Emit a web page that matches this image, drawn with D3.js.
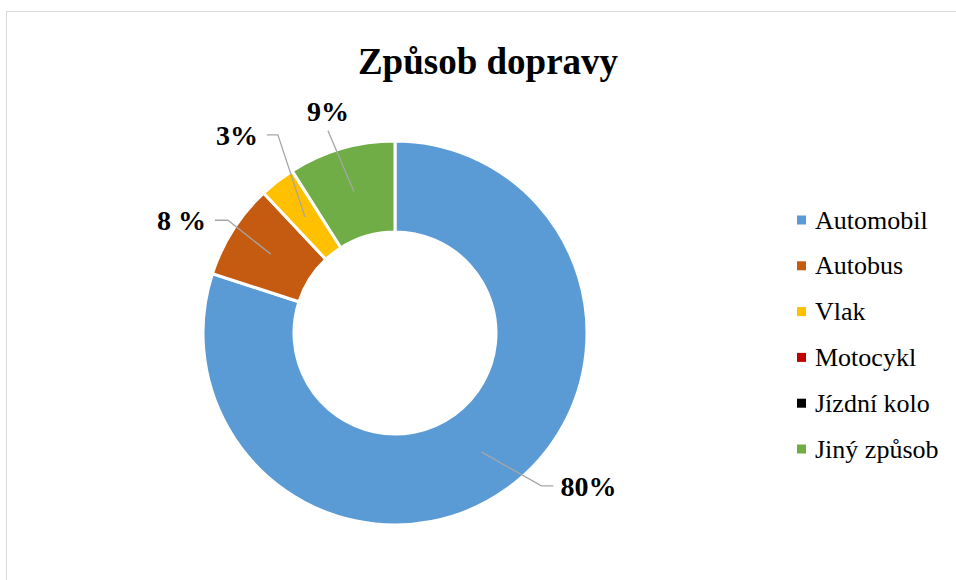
<!DOCTYPE html>
<html>
<head>
<meta charset="utf-8">
<script src="https://cdn.jsdelivr.net/npm/d3@7"></script>
<style>
  body { margin: 0; background: #fff; }
  text { font-family: "Liberation Serif", "Times New Roman", serif; }
</style>
</head>
<body>
<svg width="956" height="580"></svg>
<script>
const categories = ["Automobil", "Autobus", "Vlak", "Motocykl", "Jízdní kolo", "Jiný způsob"];
const values = [80, 8, 3, 0, 0, 9];
const labels = ["80%", "8 %", "3%", "", "", "9%"];
const colors = ["#5b9bd5", "#c55a11", "#ffc000", "#c00000", "#000000", "#70ad47"];

// label placement (elbow offset from the slice point, horizontal tail, side)
const labelLayout = [
  { elbow: [60, 34], tail: 12, anchor: "start" },
  { elbow: [-43, -34], tail: -13, anchor: "end" },
  { elbow: [-27, -82], tail: -11, anchor: "end" },
  null,
  null,
  { elbow: [-26, -61], tail: 0, anchor: "middle" }
];

const svg = d3.select("svg");
const cx = 395, cy = 333;

svg.append("rect")
  .attr("x", 6.5).attr("y", 11.5)
  .attr("width", 1000).attr("height", 1000)
  .attr("fill", "none")
  .attr("stroke", "#d9d9d9");

svg.append("text")
  .attr("x", 488).attr("y", 74)
  .attr("text-anchor", "middle")
  .attr("font-size", 37)
  .attr("font-weight", "bold")
  .text("Způsob dopravy");

const pie = d3.pie().sort(null).value(d => d.value);
const arcs = pie(categories.map((c, i) => ({ name: c, value: values[i], i: i })));

const arc = d3.arc().innerRadius(101).outerRadius(192);
const pointArc = d3.arc().innerRadius(147).outerRadius(147);

const g = svg.append("g").attr("transform", "translate(" + cx + "," + cy + ")");

g.selectAll("path")
  .data(arcs.filter(d => d.data.value > 0))
  .enter()
  .append("path")
  .attr("d", arc)
  .attr("fill", d => colors[d.data.i])
  .attr("stroke", "#fff")
  .attr("stroke-width", 3);

arcs.forEach(function(d) {
  const lay = labelLayout[d.data.i];
  if (!lay) return;
  const p = pointArc.centroid(d);
  const e = [p[0] + lay.elbow[0], p[1] + lay.elbow[1]];
  const t = [e[0] + lay.tail, e[1]];
  g.append("polyline")
    .attr("points", [p, e, t].map(q => q.join(",")).join(" "))
    .attr("fill", "none")
    .attr("stroke", "#a6a6a6")
    .attr("stroke-width", 1.3);
  let tx = t[0], ty = t[1] + 10;
  if (lay.anchor === "start") tx += 7;
  else if (lay.anchor === "end") tx -= 9;
  else ty = t[1] - 10;
  g.append("text")
    .attr("x", tx).attr("y", ty)
    .attr("text-anchor", lay.anchor)
    .attr("font-size", 28)
    .attr("font-weight", "bold")
    .text(labels[d.data.i]);
});

const legend = svg.append("g")
  .selectAll("g")
  .data(categories)
  .enter()
  .append("g")
  .attr("transform", (d, i) => "translate(797," + (220 + i * 45.8) + ")");

legend.append("rect")
  .attr("x", 0).attr("y", -4.5)
  .attr("width", 9).attr("height", 9)
  .attr("fill", (d, i) => colors[i]);

legend.append("text")
  .attr("x", 18).attr("y", 8.5)
  .attr("font-size", 26)
  .text(d => d);
</script>
</body>
</html>
